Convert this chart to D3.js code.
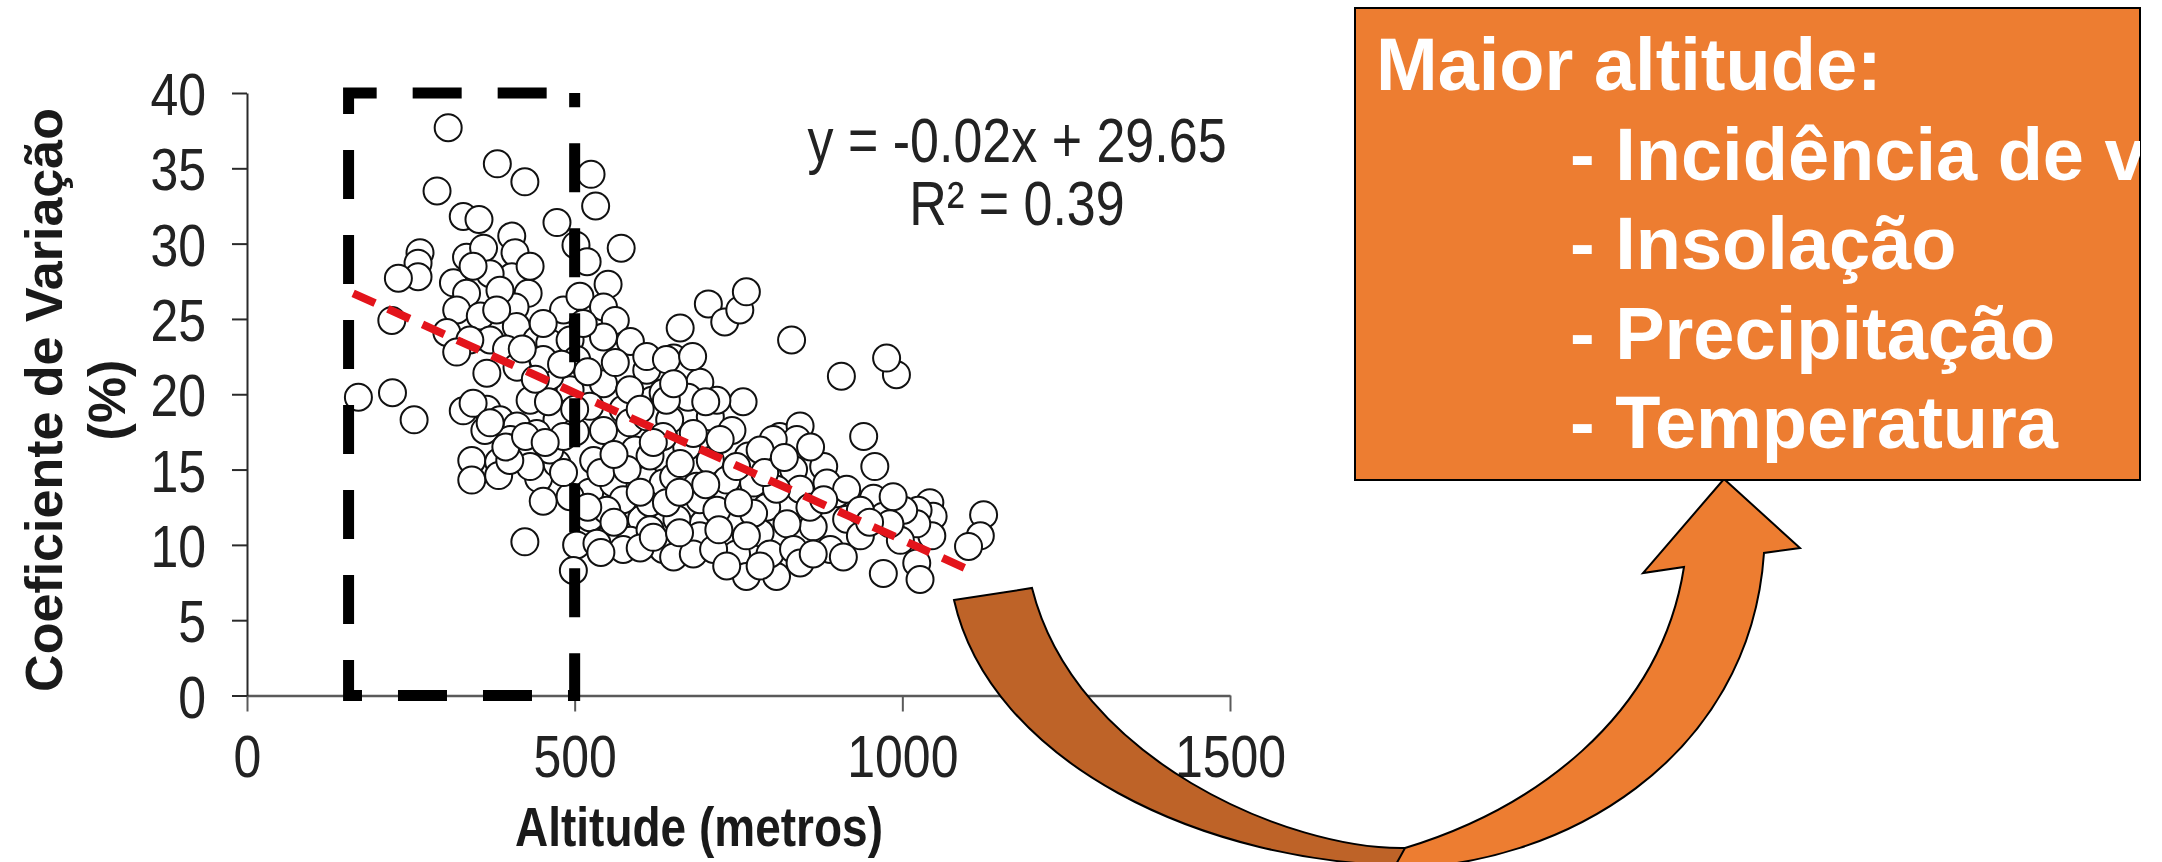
<!DOCTYPE html>
<html>
<head>
<meta charset="utf-8">
<script src="https://cdn.jsdelivr.net/npm/d3@7"></script>
<style>
  body { margin: 0; background: #fff; }
  svg { display: block; font-family: "Liberation Sans", Arial, sans-serif; }
</style>
</head>
<body>
<svg id="chart"></svg>
<script>
var width = 2162;
var height = 862;

// altitude (m) of each station
var altitude = [
  307,382,424,525,290,532,330,354,473,404,571,264,502,335,361,409,519,261,261,231,
  315,404,371,551,335,429,483,508,409,320,356,544,221,562,305,371,411,442,462,493,
  544,585,396,345,386,432,381,452,513,340,
  170,222,255,330,366,386,366,432,343,343,384,384,424,445,452,473,473,501,529,523,
  523,503,498,424,544,562,610,564,592,610,587,602,557,635,618,635,559,412,363,402,
  462,493,585,615,574,523,320,345,371,442,483,493,462,412,544,584,615,635,574,549,
  615,574,534,483,432,401,610,635,584,610,503,452,
  661,704,729,752,762,831,651,
  907,991,976,757,941,958,661,691,673,707,740,645,671,707,765,813,844,839,803,880,
  834,900,956,1042,1047,1024,1124,1119,1101,1045,1022,1002,971,997,1022,971,1027,915,936,890,
  910,864,844,793,824,783,752,732,696,656,651,686,691,651,681,747,762,808,798,834,
  859,773,732,722,747,640,986,981,640,635,661,691,717,773,762,712,732,783,844,864,
  885,915,936,808,783,681,717,651,
  520,540,560,580,600,620,640,660,700,720,700,680,600,560,520,500,460,440,420,480,
  540,600,620,660,750,790,820,860,880,950,395,425,455
];

// coeficiente de variação (%)
var cv = [
  37.7,35.3,34.1,34.6,33.5,32.5,31.8,31.6,31.4,30.5,29.7,29.4,29.9,29.1,29.7,29.4,28.8,28.7,27.8,27.7,
  27.4,27.8,28.0,27.3,26.7,26.7,25.6,26.5,25.8,25.6,25.2,25.8,24.9,24.9,24.1,23.6,24.5,23.6,23.4,23.6,
  23.8,23.5,23.0,28.5,26.9,28.5,25.6,24.7,24.7,23.6,
  19.8,20.1,18.3,18.9,19.0,18.3,21.4,19.6,15.6,14.3,15.5,14.6,16.6,14.4,12.9,15.4,18.3,17.5,15.6,13.5,
  11.8,10.0,8.3,10.2,20.7,22.1,21.6,16.9,16.3,14.3,12.3,11.7,10.7,9.7,19.6,17.4,14.1,17.9,17.6,17.0,
  16.3,13.2,10.3,12.8,19.0,19.2,22.8,19.4,18.1,17.4,17.2,20.3,21.2,21.8,17.6,18.1,15.9,14.1,13.0,12.3,
  11.0,9.7,10.1,14.8,15.2,15.6,18.5,20.1,20.3,22.5,22.3,22.3,
  24.4,26.0,24.8,25.6,26.8,23.6,22.4,
  21.2,21.3,22.4,19.5,17.2,15.2,21.6,20.8,19.8,18.5,17.6,18.3,16.5,15.6,15.9,17.2,17.9,17.0,17.0,15.2,
  15.0,13.4,13.1,12.8,11.9,12.3,12.0,10.6,9.9,10.6,11.4,12.3,11.9,10.3,8.8,8.1,7.7,11.7,10.6,9.7,
  9.2,11.2,13.7,12.5,11.4,10.8,11.7,13.2,11.4,11.7,14.5,13.9,10.6,9.2,9.4,9.4,7.9,7.9,9.4,9.7,
  12.5,14.1,14.3,17.0,15.2,19.6,13.2,11.4,22.3,17.2,15.4,13.0,12.3,12.1,10.6,9.7,8.6,8.6,8.8,9.4,
  14.1,13.7,12.3,13.7,16.3,17.4,19.6,20.7,
  12.5,14.8,11.5,15.0,13.5,16.8,12.8,13.5,14.0,11.0,19.5,22.5,19.0,16.0,21.5,19.0,19.5,21.0,23.0,22.0,
  9.5,9.8,10.5,10.8,12.8,14.8,15.8,16.5,13.0,11.5,16.5,17.2,16.8
];

var xTicks = [0, 500, 1000, 1500];
var yTicks = [0, 5, 10, 15, 20, 25, 30, 35, 40];

// linear trend, read at the first and last station
var trendX = [162, 1114];
var trendY = [26.7, 8.1];

// highlighted low-altitude range
var boxX = [155, 500];
var boxY = [0, 40];

var equation = ["y = -0.02x + 29.65", "R² = 0.39"];
var yTitle = ["Coeficiente de Variação", "(%)"];
var xTitle = "Altitude (metros)";
var notes = ["Maior altitude:", "- Incidência de ventos", "- Insolação", "- Precipitação", "- Temperatura"];

var svg = d3.select("#chart")
    .attr("width", width)
    .attr("height", height);

var x = d3.scaleLinear().domain([0, 1500]).range([247, 1230]);
var y = d3.scaleLinear().domain([0, 40]).range([695.5, 93]);

// the chart picture is a bit taller than wide, so the text is stretched
var stretch = "scale(1,1.2)";

// axes
var xAxis = svg.append("g")
    .attr("transform", "translate(0," + y(0) + ")")
    .call(d3.axisBottom(x).tickValues(xTicks).tickFormat(d3.format("d")).tickSize(16).tickSizeOuter(0));
xAxis.select(".domain").attr("stroke", "#5a5a5a").attr("stroke-width", 2.5);
xAxis.selectAll(".tick line").attr("stroke", "#5a5a5a").attr("stroke-width", 2);
xAxis.selectAll(".tick text")
    .attr("y", 0).attr("dy", 0)
    .attr("transform", "translate(0,81.5) " + stretch);

var yAxis = svg.append("g")
    .attr("transform", "translate(" + x(0) + ",0)")
    .call(d3.axisLeft(y).tickValues(yTicks).tickSize(15).tickSizeOuter(0));
yAxis.select(".domain").attr("stroke", "#2a2a2a").attr("stroke-width", 2);
yAxis.selectAll(".tick line").attr("stroke", "#2a2a2a").attr("stroke-width", 2);
yAxis.selectAll(".tick text")
    .attr("x", 0).attr("dy", "0.36em")
    .attr("transform", "translate(-41,0) " + stretch);

svg.selectAll(".tick text")
    .attr("font-family", "'Liberation Sans', Arial, sans-serif")
    .attr("font-size", 50)
    .attr("fill", "#222");

// axis titles
svg.append("text")
    .attr("transform", "translate(699,846) " + stretch)
    .attr("text-anchor", "middle")
    .attr("font-size", 46).attr("font-weight", "bold").attr("fill", "#1a1a1a")
    .text(xTitle);

svg.selectAll(".ytitle")
    .data(yTitle)
    .enter().append("text")
    .attr("class", "ytitle")
    .attr("transform", function(d, i) { return "translate(" + (62 + i * 63) + ",400) rotate(-90)"; })
    .attr("text-anchor", "middle")
    .attr("font-size", 52).attr("font-weight", "bold").attr("fill", "#1a1a1a")
    .text(function(d) { return d; });

// scatter
var points = altitude.map(function(a, i) { return { x: a, y: cv[i] }; });
svg.append("g").selectAll("circle")
    .data(points)
    .enter().append("circle")
    .attr("cx", function(d) { return x(d.x); })
    .attr("cy", function(d) { return y(d.y); })
    .attr("r", 13.5)
    .attr("fill", "#fff")
    .attr("stroke", "#111")
    .attr("stroke-width", 2);

// trend line
var line = d3.line()
    .x(function(d) { return x(d[0]); })
    .y(function(d) { return y(d[1]); });
svg.append("path")
    .datum(d3.zip(trendX, trendY))
    .attr("d", line)
    .attr("fill", "none")
    .attr("stroke", "#e3141b")
    .attr("stroke-width", 8)
    .attr("stroke-dasharray", "24,14");

// equation
svg.selectAll(".eq")
    .data(equation)
    .enter().append("text")
    .attr("class", "eq")
    .attr("transform", function(d, i) { return "translate(1017," + (162 + i * 63) + ") " + stretch; })
    .attr("text-anchor", "middle")
    .attr("font-size", 52).attr("fill", "#222")
    .text(function(d) { return d; });

// dashed box over the low-altitude stations
var bx0 = x(boxX[0]), bx1 = x(boxX[1]), by0 = y(boxY[1]), by1 = y(boxY[0]);
svg.append("path")
    .attr("d", "M" + bx1 + "," + by0 + "H" + bx0 + "V" + by1 + "H" + bx1 + "V" + by0)
    .attr("fill", "none")
    .attr("stroke", "#000")
    .attr("stroke-width", 11)
    .attr("stroke-dasharray", "49,36")
    .attr("stroke-dashoffset", 57);

// curved arrow
svg.append("path")
    .attr("d", "M954,600 L1032,588 C1075,760 1290,850 1405,848 L1420,866 C1200,866 990,760 954,600 Z")
    .attr("fill", "#be6328")
    .attr("stroke", "#000")
    .attr("stroke-width", 2);
svg.append("path")
    .attr("d", "M1405,848 C1530,810 1660,720 1684,567 L1643,573 L1724,479 L1800,548 L1764,553 C1750,760 1560,868 1394,868 Z")
    .attr("fill", "#ed7d31")
    .attr("stroke", "#000")
    .attr("stroke-width", 2);

// note box
var note = svg.append("g");
note.append("clipPath").attr("id", "noteClip")
    .append("rect").attr("x", 1355).attr("y", 8).attr("width", 785).attr("height", 472);
note.append("rect")
    .attr("x", 1355).attr("y", 8).attr("width", 785).attr("height", 472)
    .attr("fill", "#ed7d31").attr("stroke", "#000").attr("stroke-width", 2);
note.append("g").attr("clip-path", "url(#noteClip)")
    .selectAll("text")
    .data(notes)
    .enter().append("text")
    .attr("x", function(d, i) { return i === 0 ? 1376 : 1570; })
    .attr("y", function(d, i) { return 90 + i * 89.5; })
    .attr("font-size", 74).attr("font-weight", "bold").attr("fill", "#fff")
    .text(function(d) { return d; });
</script>
</body>
</html>
